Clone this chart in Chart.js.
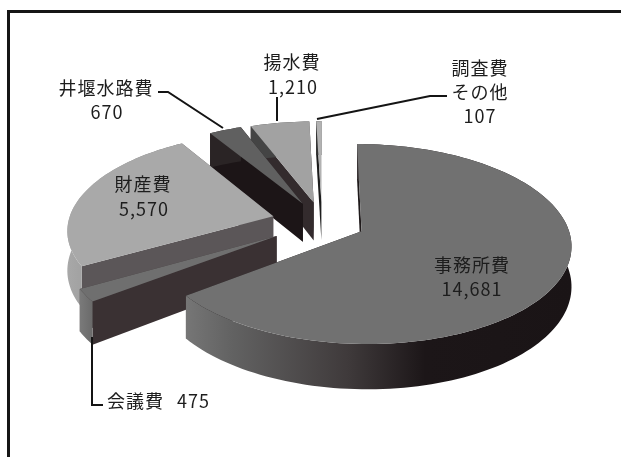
<!DOCTYPE html>
<html lang="ja">
<head>
<meta charset="utf-8">
<title>支出内訳</title>
<style>
  html, body { margin: 0; background: #fff; }
  #wrap { position: relative; width: 621px; height: 457px; overflow: hidden; }
  #frame { position: absolute; left: 7px; top: 10px; width: 640px; height: 480px;
           border-top: 3px solid #161616; border-left: 3px solid #161616; }
  #pie { position: absolute; left: 0; top: 0; display: block; }
</style>
<script src="https://cdn.jsdelivr.net/npm/chart.js@4"></script>
</head>
<body>
<div id="wrap">
  <div id="frame"></div>
  <canvas id="pie" width="621" height="457"></canvas>
</div>
<script>
const categories = ['事務所費', '会議費', '財産費', '井堰水路費', '揚水費', '調査費その他'];
const values = [14681, 475, 5570, 670, 1210, 107];

// slice colours: top face, cut face, rim gradient
const topColors = ['#717171', '#6f6f6f', '#a9a9a9', '#606060', '#a2a2a2', '#b2b2b2'];
const cutColors = ['#1f1a1b', '#3a3133', '#5b5658', '#1c1517', '#332b2d', '#1d1d1d'];
const rimStops = [
  [[0, '#767676'], [0.12, '#626262'], [0.42, '#3f3a3b'], [0.62, '#1c1618'], [1, '#1a1416']],
  [[0, '#7a7a7a'], [1, '#6a6a6a']],
  [[0, '#a8a8a8'], [0.4, '#949494'], [1, '#6a6a6a']],
  [[0, '#2a2425'], [1, '#2a2425']],
  [[0, '#444'], [1, '#444']],
  [[0, '#333'], [1, '#333']]
];
// how far each slice is pulled out, px
const explode = [43, 52.7, 50, 44, 43, 43];
// back to front
const drawOrder = [5, 4, 3, 2, 1, 0];

// tilted view of the pie plane
const view = { cx: 322, cy: 222, a: 205, b: 96, k: 0.127, depth: 39 };

const project = (u, v) => {
  const s = 1 / (1 - view.k * v);
  return { x: view.cx + view.a * u * s, y: view.cy + view.b * v * s, s };
};
const lower = p => ({ x: p.x, y: p.y + view.depth * p.s });

function tracePolygon(ctx, pts) {
  ctx.beginPath();
  pts.forEach((p, i) => (i ? ctx.lineTo(p.x, p.y) : ctx.moveTo(p.x, p.y)));
  ctx.closePath();
}

function drawSlice(ctx, arc, i) {
  const { startAngle, endAngle, outerRadius: r } = arc;
  const mid = (startAngle + endAngle) / 2;
  const off = arc.options.offset / r;
  const ou = off * Math.cos(mid);
  const ov = off * Math.sin(mid);

  const apex = project(ou, ov);
  const rim = [];
  const steps = Math.max(2, Math.ceil((endAngle - startAngle) / 0.03));
  for (let n = 0; n <= steps; n++) {
    const t = startAngle + (endAngle - startAngle) * n / steps;
    rim.push(project(ou + Math.cos(t), ov + Math.sin(t)));
  }

  // cut faces
  ctx.fillStyle = cutColors[i];
  [rim[rim.length - 1], rim[0]].forEach(edge => {
    tracePolygon(ctx, [apex, edge, lower(edge), lower(apex)]);
    ctx.fill();
  });

  // curved outer wall
  const xs = rim.map(p => p.x);
  const grad = ctx.createLinearGradient(Math.min(...xs), 0, Math.max(...xs), 0);
  rimStops[i].forEach(([at, col]) => grad.addColorStop(at, col));
  ctx.fillStyle = grad;
  tracePolygon(ctx, rim.concat(rim.map(lower).reverse()));
  ctx.fill();

  // top face
  ctx.fillStyle = arc.options.backgroundColor;
  tracePolygon(ctx, [apex].concat(rim));
  ctx.fill();
}

const solidPie = {
  id: 'solidPie',
  beforeDatasetsDraw(chart) {
    const arcs = chart.getDatasetMeta(0).data;
    drawOrder.forEach(i => drawSlice(chart.ctx, arcs[i], i));
    return false;
  }
};

const fmt = v => v.toLocaleString('en-US');
const labelFont = '18px "Noto Sans CJK JP"';

function label(ctx, text, x, y, align) {
  ctx.textAlign = align || 'center';
  ctx.fillText(text, x, y);
}

function leader(ctx, pts) {
  ctx.beginPath();
  pts.forEach(([x, y], i) => (i ? ctx.lineTo(x, y) : ctx.moveTo(x, y)));
  ctx.stroke();
}

const pieLabels = {
  id: 'pieLabels',
  afterDraw(chart) {
    const ctx = chart.ctx;
    ctx.save();
    ctx.font = labelFont;
    ctx.letterSpacing = '1px';
    ctx.textBaseline = 'middle';
    ctx.fillStyle = '#1d1d1d';
    label(ctx, categories[0], 472, 265);
    label(ctx, fmt(values[0]), 472, 289);
    label(ctx, categories[1], 107, 401, 'left');
    label(ctx, fmt(values[1]), 177, 401, 'left');
    label(ctx, categories[2], 143, 184);
    label(ctx, fmt(values[2]), 144, 209);
    label(ctx, categories[3], 106, 88);
    label(ctx, fmt(values[3]), 107, 112);
    label(ctx, categories[4], 292, 62);
    label(ctx, fmt(values[4]), 293, 87);
    label(ctx, categories[5].slice(0, 3), 480, 68);
    label(ctx, categories[5].slice(3), 480, 92);
    label(ctx, fmt(values[5]), 480, 116);

    ctx.strokeStyle = '#141414';
    ctx.lineWidth = 2;
    leader(ctx, [[158, 92], [168, 92], [223, 128]]);
    leader(ctx, [[277, 97], [277, 121]]);
    leader(ctx, [[447, 96], [430, 96], [317, 119]]);
    leader(ctx, [[92, 337], [92, 405], [103, 405]]);
    ctx.restore();
  }
};

new Chart(document.getElementById('pie'), {
  type: 'pie',
  data: {
    labels: categories,
    datasets: [{
      data: values,
      backgroundColor: topColors,
      borderWidth: 0,
      offset: explode
    }]
  },
  options: {
    responsive: false,
    animation: false,
    plugins: { legend: { display: false }, tooltip: { enabled: false } }
  },
  plugins: [solidPie, pieLabels]
});
</script>
</body>
</html>
